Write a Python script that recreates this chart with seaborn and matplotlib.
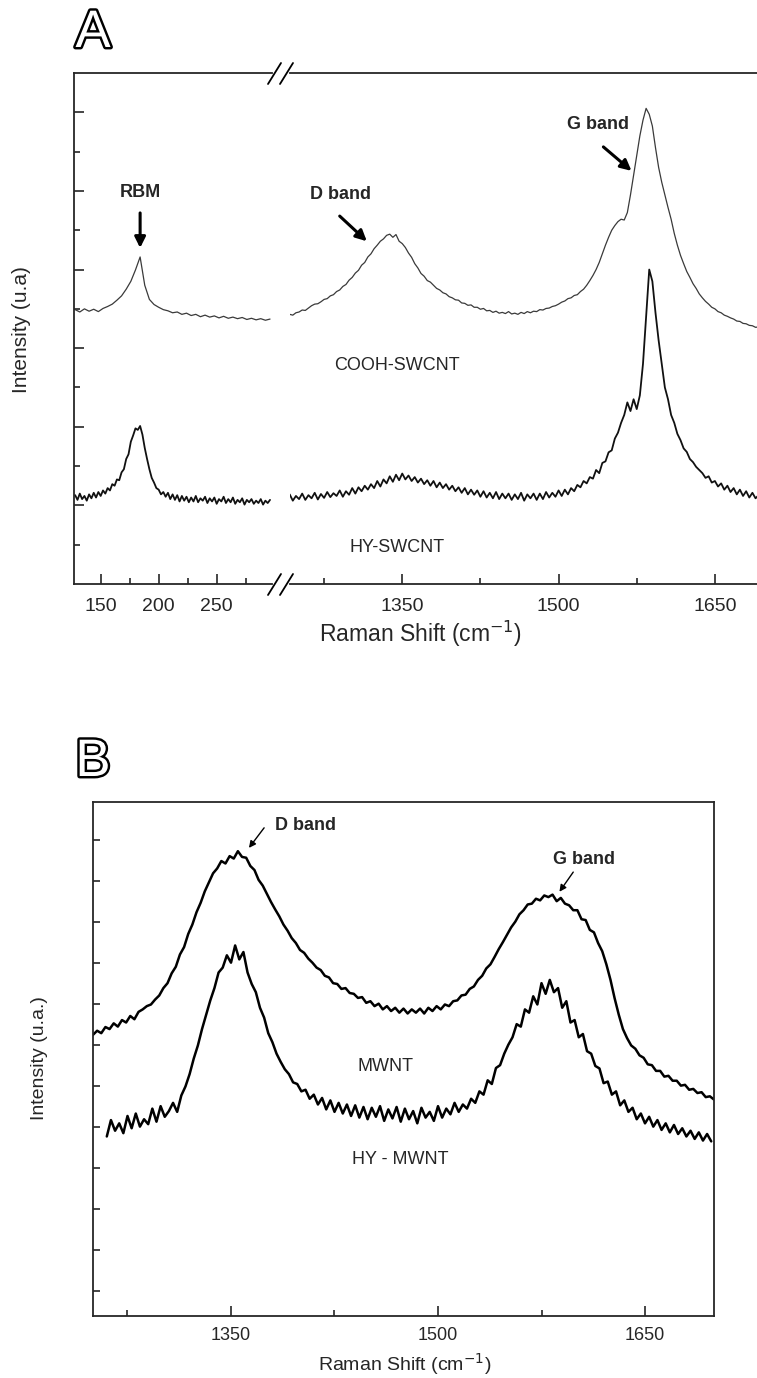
import numpy as np
import pandas as pd
import seaborn as sns
import matplotlib.pyplot as plt
import matplotlib.patheffects as pe
from matplotlib.lines import Line2D
from matplotlib.ticker import FixedLocator

# ---- data (intensity in arbitrary units) ----
# panel A, low-frequency part (RBM region)
shift_low = list(range(128, 297, 4))
cooh_low = [698, 692, 700, 694, 699, 693, 701, 706, 712, 722,
            733, 750, 770, 799, 832, 760, 724, 711, 704, 698,
            695, 690, 692, 686, 689, 683, 686, 680, 684, 679,
            682, 677, 681, 676, 679, 675, 678, 673, 676, 672,
            675, 671, 674]
shift_low_hy = list(range(128, 297, 2))
hy_low = [226, 214, 230, 216, 224, 212, 228, 218, 232, 220,
          234, 224, 238, 230, 244, 238, 254, 250, 266, 264,
          284, 292, 318, 330, 362, 378, 396, 392, 402, 380,
          346, 318, 292, 270, 258, 244, 240, 228, 234, 222,
          232, 216, 228, 214, 226, 210, 224, 212, 222, 208,
          220, 210, 224, 208, 218, 212, 222, 206, 218, 210,
          220, 204, 216, 210, 222, 206, 216, 208, 220, 204,
          214, 208, 218, 202, 214, 208, 216, 204, 212, 206,
          216, 202, 212, 206, 214]

# panel A, high-frequency part (D and G bands)
shift_high = list(range(1242, 1693, 3))
cooh_high = [686, 684, 690, 692, 697, 696, 702, 708, 712, 713,
             718, 724, 726, 733, 736, 744, 748, 757, 762, 773,
             780, 791, 798, 811, 818, 832, 840, 853, 862, 872,
             878, 887, 890, 882, 889, 872, 866, 856, 842, 831,
             815, 804, 790, 783, 772, 768, 760, 752, 748, 741,
             738, 731, 728, 723, 722, 715, 714, 709, 710, 704,
             704, 699, 701, 695, 696, 691, 694, 689, 691, 688,
             693, 687, 689, 686, 691, 688, 693, 690, 694, 693,
             698, 697, 701, 702, 706, 708, 712, 717, 720, 726,
             728, 734, 736, 744, 750, 760, 772, 785, 800, 818,
             840, 862, 882, 900, 912, 922, 928, 926, 945, 990,
             1040, 1090, 1140, 1180, 1210, 1195, 1165, 1110, 1060, 1022,
             990, 958, 928, 892, 862, 836, 815, 795, 780, 764,
             752, 738, 728, 719, 712, 704, 700, 693, 690, 684,
             681, 677, 674, 669, 668, 663, 662, 658, 657, 653,
             654]
hy_high = [228, 212, 224, 216, 230, 214, 226, 218, 232, 215,
           229, 219, 234, 221, 231, 224, 238, 222, 236, 227,
           244, 230, 246, 236, 250, 240, 254, 244, 262, 248,
           266, 256, 274, 260, 278, 264, 281, 266, 276, 262,
           272, 258, 268, 254, 264, 250, 262, 246, 258, 244,
           254, 240, 250, 236, 246, 232, 244, 228, 240, 227,
           238, 222, 236, 220, 232, 218, 234, 216, 230, 218,
           230, 214, 228, 216, 232, 212, 228, 218, 230, 214,
           230, 216, 234, 220, 232, 222, 238, 224, 240, 228,
           244, 236, 252, 246, 262, 256, 272, 268, 290, 282,
           308, 312, 335, 340, 370, 385, 410, 430, 462, 440,
           470, 445, 480, 560, 680, 800, 770, 690, 620, 560,
           500, 470, 430, 410, 382, 366, 345, 336, 318, 310,
           298, 290, 282, 270, 274, 258, 262, 248, 256, 240,
           250, 234, 244, 228, 240, 224, 236, 220, 232, 218,
           226]

# panel B
shift_mw = list(range(1250, 1701, 3))
mwnt = [686, 696, 690, 705, 700, 714, 706, 722, 716, 732,
        724, 742, 748, 756, 760, 772, 782, 800, 812, 836,
        852, 882, 900, 932, 955, 985, 1008, 1036, 1058, 1080,
        1092, 1110, 1104, 1122, 1116, 1134, 1120, 1118, 1098, 1088,
        1064, 1050, 1030, 1010, 992, 975, 955, 940, 922, 910,
        893, 886, 872, 862, 850, 844, 830, 826, 812, 810,
        798, 800, 788, 786, 776, 778, 764, 768, 756, 762,
        748, 756, 744, 752, 740, 750, 738, 748, 740, 750,
        738, 752, 744, 756, 748, 760, 756, 768, 770, 782,
        784, 798, 804, 820, 830, 848, 858, 876, 895, 912,
        930, 948, 962, 980, 990, 1004, 1006, 1018, 1014, 1026,
        1022, 1028, 1012, 1020, 1006, 1002, 990, 990, 968, 966,
        942, 936, 910, 890, 858, 820, 775, 735, 700, 678,
        660, 652, 636, 630, 614, 612, 598, 598, 584, 586,
        574, 574, 562, 564, 552, 554, 544, 546, 534, 536,
        528]
shift_hymw = list(range(1260, 1699, 3))
hy_mwnt = [438, 478, 452, 470, 446, 488, 458, 494, 462, 480,
           468, 506, 474, 512, 486, 500, 520, 498, 538, 560,
           590, 628, 660, 700, 735, 770, 800, 838, 850, 880,
           862, 904, 870, 888, 838, 810, 790, 752, 728, 690,
           668, 640, 620, 602, 590, 570, 566, 548, 552, 530,
           540, 516, 532, 504, 526, 498, 520, 494, 516, 488,
           514, 484, 510, 480, 508, 486, 512, 476, 504, 482,
           510, 474, 506, 480, 500, 470, 508, 484, 498, 476,
           512, 484, 506, 492, 520, 498, 516, 506, 530, 520,
           548, 540, 575, 566, 605, 612, 640, 662, 680, 712,
           706, 748, 740, 780, 760, 812, 786, 820, 790, 800,
           752, 768, 716, 722, 680, 688, 646, 640, 610, 604,
           568, 572, 540, 548, 514, 526, 498, 508, 480, 494,
           470, 486, 462, 478, 454, 470, 448, 466, 444, 458,
           438, 452, 432, 448, 428, 444, 426]

low_major = [150, 200, 250]
low_minor = [175, 225, 275]
high_major = [1350, 1500, 1650]
high_minor = [1275, 1425, 1575]
b_yticks = [61, 161, 261, 361, 461, 561, 661, 761, 861, 961, 1061, 1161]

# ---- figure ----
sns.set_style("ticks")
plt.rcParams['font.family'] = ['Liberation Sans', 'DejaVu Sans']
plt.rcParams['axes.linewidth'] = 1.3

W, H = 757, 1378
fig = plt.figure(figsize=(W / 100, H / 100), dpi=100)


def fx(x):
    return x / W


def fy(y):
    return 1 - y / H


ax_lo = fig.add_axes([fx(74), fy(584), fx(272 - 74), (584 - 73) / H])
ax_hi = fig.add_axes([fx(290), fy(584), fx(757 - 290), (584 - 73) / H])
ax_b = fig.add_axes([fx(93), fy(1316), fx(714 - 93), (1316 - 802) / H])

sns.lineplot(x=shift_low, y=cooh_low, ax=ax_lo, color='#3a3a3a', lw=0.9)
sns.lineplot(x=shift_low_hy, y=hy_low, ax=ax_lo, color='#111111', lw=1.3)
sns.lineplot(x=shift_high, y=cooh_high, ax=ax_hi, color='#3a3a3a', lw=0.9)
sns.lineplot(x=shift_high, y=hy_high, ax=ax_hi, color='#111111', lw=1.3)
sns.lineplot(x=shift_mw, y=mwnt, ax=ax_b, color='black', lw=1.8)
sns.lineplot(x=shift_hymw, y=hy_mwnt, ax=ax_b, color='black', lw=1.8)

ax_lo.set_xlim(127, 297.7)
ax_hi.set_xlim(1242.3, 1690.4)
for ax in (ax_lo, ax_hi):
    ax.set_ylim(0, 1300)
ax_b.set_xlim(1250, 1700)
ax_b.set_ylim(0, 1254)

ax_lo.spines['right'].set_visible(False)
ax_hi.spines['left'].set_visible(False)
ax_hi.spines['right'].set_visible(False)

ax_lo.xaxis.set_major_locator(FixedLocator(low_major))
ax_lo.xaxis.set_minor_locator(FixedLocator(low_minor))
ax_hi.xaxis.set_major_locator(FixedLocator(high_major))
ax_hi.xaxis.set_minor_locator(FixedLocator(high_minor))
ax_b.xaxis.set_major_locator(FixedLocator(high_major))
ax_b.xaxis.set_minor_locator(FixedLocator(high_minor))

ax_lo.yaxis.set_major_locator(FixedLocator([200, 400, 600, 800, 1000, 1200]))
ax_lo.yaxis.set_minor_locator(FixedLocator([100, 300, 500, 700, 900, 1100]))
ax_b.yaxis.set_major_locator(FixedLocator(b_yticks))
ax_hi.set_yticks([])

for ax in (ax_lo, ax_hi, ax_b):
    ax.tick_params(which='both', direction='in', top=False, right=False,
                   width=1.2, labelsize=14, pad=10)
    ax.tick_params(which='major', length=7.5)
    ax.tick_params(which='minor', length=4)
    ax.set_yticklabels([])
    ax.set_xlabel('')
    ax.set_ylabel('')
ax_b.tick_params(labelsize=13, pad=8)
ax_b.tick_params(axis='y', length=5)

# break marks
for yb in (73, 584):
    for x0 in (268, 280):
        fig.add_artist(Line2D([fx(x0), fx(x0 + 13)], [fy(yb + 11), fy(yb - 10)],
                              color='black', lw=1.3))

# annotations, panel A
bold = dict(fontsize=13, fontweight='bold', ha='center', va='center')
arrowA = dict(arrowstyle='-|>', color='black', lw=2.2, mutation_scale=16,
              shrinkA=0, shrinkB=0)
ax_lo.annotate('', xy=(184, 855), xytext=(184, 944), arrowprops=arrowA)
ax_lo.text(184.3, 995, 'RBM', **bold)
ax_hi.annotate('', xy=(1316, 872), xytext=(1290, 936), arrowprops=arrowA)
ax_hi.text(1291, 990, 'D band', **bold)
ax_hi.annotate('', xy=(1570, 1051), xytext=(1543, 1112), arrowprops=arrowA)
ax_hi.text(1538, 1168, 'G band', **bold)
ax_hi.text(1345, 555, 'COOH-SWCNT', fontsize=13, ha='center', va='center')
ax_hi.text(1345, 94, 'HY-SWCNT', fontsize=13, ha='center', va='center')

# annotations, panel B
arrowB = dict(arrowstyle='-|>', color='black', lw=1.0, mutation_scale=10,
              shrinkA=0, shrinkB=0)
ax_b.annotate('', xy=(1363, 1142), xytext=(1374, 1191), arrowprops=arrowB)
ax_b.text(1404, 1196, 'D band', fontsize=13, fontweight='bold', ha='center', va='center')
ax_b.annotate('', xy=(1588, 1035), xytext=(1598, 1083), arrowprops=arrowB)
ax_b.text(1606, 1113, 'G band', fontsize=13, fontweight='bold', ha='center', va='center')
ax_b.text(1462, 608, 'MWNT', fontsize=13, ha='center', va='center')
ax_b.text(1473, 381, 'HY - MWNT', fontsize=13, ha='center', va='center')

# axis labels
fig.text(fx(22), fy(330), 'Intensity (u.a)', rotation=90, fontsize=15,
         ha='center', va='center')
fig.text(fx(420), fy(634), 'Raman Shift (cm$^{-1}$)', fontsize=16.5,
         ha='center', va='center')
fig.text(fx(40), fy(1058), 'Intensity (u.a.)', rotation=90, fontsize=14,
         ha='center', va='center')
fig.text(fx(405), fy(1364), 'Raman Shift (cm$^{-1}$)', fontsize=14,
         ha='center', va='center')

# panel letters
for letter, yl in (('A', 33), ('B', 762)):
    fig.text(fx(93), fy(yl), letter, fontsize=38, color='white', ha='center',
             va='center', path_effects=[pe.withStroke(linewidth=3.5, foreground='black')])

fig.savefig('out.png', dpi=100)
